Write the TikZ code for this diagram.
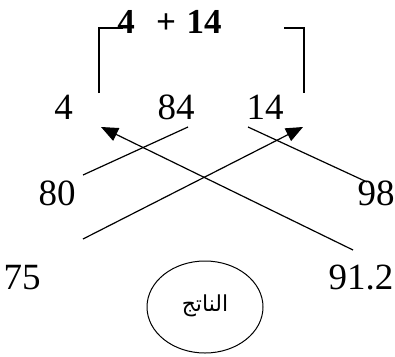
\documentclass[tikz,border=0pt]{standalone}
\usepackage{fontspec}
\setmainfont{Liberation Serif}
\newfontfamily\arabicfont[Script=Arabic]{DejaVu Sans}
\TeXXeTstate=1
\usetikzlibrary{arrows.meta,shapes.geometric}
\begin{document}
\begin{tikzpicture}[x=1pt,y=-1pt,
  num/.style={inner sep=0pt,anchor=base,font=\fontsize{37}{40}\selectfont},
  bnum/.style={inner sep=0pt,anchor=base,font=\fontsize{35}{40}\selectfont\bfseries},
  ln/.style={line width=1.2pt},
  arr/.style={line width=1.2pt,-{Triangle[length=17pt,width=14pt]}}]
\useasboundingbox (0,0) rectangle (395,356);
% top
\node[bnum] (t4) at (126,33) {4};
\node[bnum] (tp) at (166,33) {+};
\node[bnum] (t14) at (204,33) {14};
% brackets
\coordinate (bl1) at (99,93);
\coordinate (bl2) at (99,28);
\coordinate (bl3) at (123,28);
\coordinate (br1) at (284,28);
\coordinate (br2) at (304,28);
\coordinate (br3) at (304,93);
\draw[ln] (bl1) -- (bl2) -- (bl3);
\draw[ln] (br1) -- (br2) -- (br3);
% row 2
\node[num] (a4) at (63.5,119) {4};
\node[num] (a84) at (176,119) {84};
\node[num] (a14) at (265,119) {14};
% row 3
\node[num] (n80) at (57,205) {80};
\node[num] (n98) at (376,205) {98};
% row 4
\node[num] (n75) at (22,289) {75};
\node[num] (n912) at (361,289) {91.2};
% lines
\coordinate (p1s) at (353,250);
\coordinate (p1e) at (101,127);
\coordinate (p2s) at (83,239);
\coordinate (p2e) at (303,127);
\coordinate (p3s) at (188,127);
\coordinate (p3e) at (83,175);
\coordinate (p4s) at (248,127);
\coordinate (p4e) at (367,182);
\draw[arr] (p1s) -- (p1e);
\draw[arr] (p2s) -- (p2e);
\draw[ln] (p3s) -- (p3e);
\draw[ln] (p4s) -- (p4e);
% ellipse
\node[ellipse,draw,line width=1pt,minimum width=116pt,minimum height=92pt,inner sep=0pt] (res) at (205,307) {};
\node[inner sep=0pt,font=\fontsize{22}{24}\selectfont] (rest) at (205,306) {\arabicfont\beginR الناتج\endR};
\end{tikzpicture}
\end{document}
